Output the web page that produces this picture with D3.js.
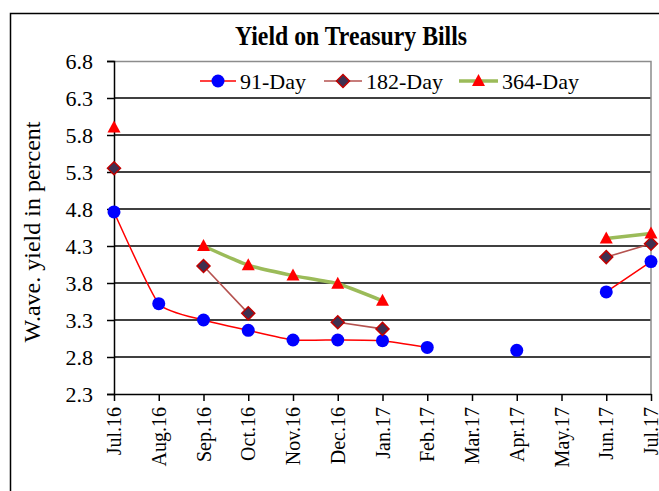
<!DOCTYPE html>
<html>
<head>
<meta charset="utf-8">
<script src="https://cdn.jsdelivr.net/npm/d3@7"></script>
<style>
  body { margin: 0; background: #fff; }
  svg text { font-family: "Liberation Serif", "Times New Roman", serif; fill: #000; }
</style>
</head>
<body>
<div id="chart"></div>
<script>
const months = ['Jul.16', 'Aug.16', 'Sep.16', 'Oct.16', 'Nov.16', 'Dec.16', 'Jan.17',
  'Feb.17', 'Mar.17', 'Apr.17', 'May.17', 'Jun.17', 'Jul.17'];
const day91 = [4.76, 3.52, 3.30, 3.16, 3.03, 3.03, 3.02, 2.93, null, 2.89, null, 3.68, 4.09];
const day182 = [5.35, null, 4.03, 3.39, null, 3.27, 3.18, null, null, null, null, 4.15, 4.33];
const day364 = [5.90, null, 4.30, 4.04, 3.90, 3.79, 3.56, null, null, null, null, 4.40, 4.47];
const yTicks = [2.3, 2.8, 3.3, 3.8, 4.3, 4.8, 5.3, 5.8, 6.3, 6.8];

const width = 659;
const height = 491;
const margins = { top: 61, right: 8, bottom: 97, left: 114 };
const chartWidth = width - margins.left - margins.right;
const chartHeight = height - margins.top - margins.bottom;

const svg = d3.select('#chart').append('svg')
  .attr('width', width)
  .attr('height', height);

// outer frame (runs off the right and bottom edges like the original)
svg.append('rect')
  .attr('x', 10.5).attr('y', 13.5)
  .attr('width', 700).attr('height', 600)
  .attr('fill', 'none').attr('stroke', '#000').attr('stroke-width', 1.5);

// title is a bit condensed in the original
svg.append('text')
  .attr('transform', 'translate(351,45) scale(0.88,1)')
  .attr('text-anchor', 'middle')
  .style('font-size', '27px').style('font-weight', 'bold')
  .text('Yield on Treasury Bills');

const g = svg.append('g').attr('transform', `translate(${margins.left},${margins.top})`);

const xScale = d3.scalePoint().domain(months).range([0, chartWidth]);
const yScale = d3.scaleLinear().domain([2.3, 6.8]).range([chartHeight, 0]);

// horizontal gridlines
g.selectAll('line.grid')
  .data(yTicks.filter(t => t > 2.3 && t < 6.8))
  .enter().append('line')
  .attr('class', 'grid')
  .attr('x1', 0).attr('x2', chartWidth)
  .attr('y1', d => yScale(d)).attr('y2', d => yScale(d))
  .attr('stroke', '#000').attr('stroke-width', 1.5);

// plot border top/right in grey
g.append('path')
  .attr('d', `M0,0.5H${chartWidth}V${chartHeight}`)
  .attr('fill', 'none').attr('stroke', '#8c8c8c').attr('stroke-width', 1.5);

const yAxis = d3.axisLeft(yScale).tickValues(yTicks).tickFormat(d3.format('.1f')).tickSize(7).tickPadding(14);
const yAxisG = g.append('g').call(yAxis);
yAxisG.select('.domain').attr('stroke', '#000').attr('stroke-width', 1.5);
yAxisG.selectAll('.tick line').attr('stroke', '#000').attr('stroke-width', 1.5);
yAxisG.selectAll('.tick text')
  .style('font-size', '22px')
  .attr('font-family', null);

const xAxis = d3.axisBottom(xScale).tickSize(7).tickSizeOuter(0);
const xAxisG = g.append('g').attr('transform', `translate(0,${chartHeight})`).call(xAxis);
xAxisG.select('.domain').attr('stroke', '#000').attr('stroke-width', 1.5);
xAxisG.selectAll('.tick line').attr('stroke', '#000').attr('stroke-width', 1.5);
xAxisG.selectAll('.tick text')
  .style('font-size', '20px')
  .attr('font-family', null)
  .attr('text-anchor', 'end')
  .attr('transform', 'rotate(-90)')
  .attr('x', -13).attr('y', 0).attr('dy', '0.33em');

svg.append('text')
  .attr('transform', 'translate(40,232) rotate(-90)')
  .attr('text-anchor', 'middle')
  .style('font-size', '24px')
  .text('W.ave. yield in percent');

const series = [
  { name: '91-Day', values: day91, line: '#ff0000', lineWidth: 1.5, marker: 'circle' },
  { name: '182-Day', values: day182, line: '#b5524f', lineWidth: 1.6, marker: 'diamond' },
  { name: '364-Day', values: day364, line: '#9bbb59', lineWidth: 3.5, marker: 'triangle' }
];

const lineGenerator = d3.line()
  .defined(d => d.v !== null)
  .x(d => xScale(d.m))
  .y(d => yScale(d.v))
  .curve(d3.curveCardinal.tension(0.5));

function drawMarker(sel, type) {
  if (type === 'circle') {
    sel.append('circle').attr('r', 6.5).attr('fill', '#0000ff');
  } else if (type === 'diamond') {
    sel.append('path').attr('d', 'M0,-6.5L6.5,0L0,6.5L-6.5,0Z')
      .attr('fill', '#3f3151').attr('stroke', '#c00000').attr('stroke-width', 1.5);
  } else {
    sel.append('path').attr('d', 'M0,-7L6.5,5L-6.5,5Z').attr('fill', '#ff0000');
  }
}

series.forEach(s => {
  const pts = months.map((m, i) => ({ m: m, v: s.values[i] }));
  g.append('path')
    .attr('d', lineGenerator(pts))
    .attr('fill', 'none')
    .attr('stroke', s.line)
    .attr('stroke-width', s.lineWidth);
});

series.forEach(s => {
  const pts = months.map((m, i) => ({ m: m, v: s.values[i] })).filter(d => d.v !== null);
  g.selectAll(null).data(pts).enter().append('g')
    .attr('transform', d => `translate(${xScale(d.m)},${yScale(d.v)})`)
    .each(function () { drawMarker(d3.select(this), s.marker); });
});

// legend
const legendItems = [
  { x0: 200, x1: 236, text: 240 },
  { x0: 324, x1: 362, text: 366 },
  { x0: 459, x1: 498, text: 502 }
];
const legendY = 81;
series.forEach((s, i) => {
  const it = legendItems[i];
  svg.append('line')
    .attr('x1', it.x0).attr('x2', it.x1)
    .attr('y1', legendY).attr('y2', legendY)
    .attr('stroke', s.line).attr('stroke-width', s.lineWidth);
  const mk = svg.append('g').attr('transform', `translate(${(it.x0 + it.x1) / 2},${legendY})`);
  drawMarker(mk, s.marker);
  svg.append('text')
    .attr('x', it.text).attr('y', legendY + 7.5)
    .style('font-size', '22px')
    .text(s.name);
});
</script>
</body>
</html>
